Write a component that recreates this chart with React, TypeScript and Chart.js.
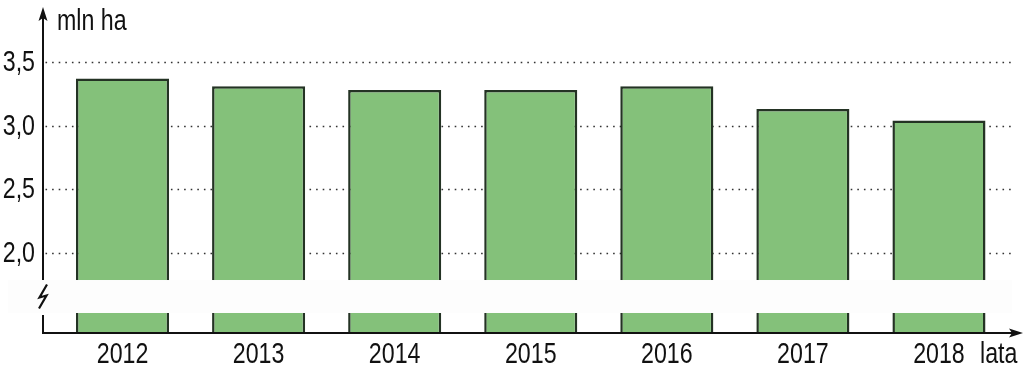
import React, { useEffect, useRef } from "react";
import { Chart, registerables } from "chart.js";

Chart.register(...registerables);

const years = ["2012", "2013", "2014", "2015", "2016", "2017", "2018"];
const areaMlnHa = [3.37, 3.31, 3.28, 3.28, 3.31, 3.13, 3.04];
const yTickValues = [2.0, 2.5, 3.0, 3.5];
const yUnitLabel = "mln ha";
const xUnitLabel = "lata";
const axisMin = 1.372;
const axisMax = 3.9;
const breakFrom = 1.529;
const breakTo = 1.788;

const FONT = "'Liberation Sans', Arial, sans-serif";
const FONT_SIZE = 29;
const NARROW = 0.8;
const INK = "#111";

function narrowText(ctx: any, text: string, x: number, y: number, align: "left" | "center" | "right", baseline: CanvasTextBaseline) {
  ctx.save();
  ctx.font = `${FONT_SIZE}px ${FONT}`;
  ctx.fillStyle = INK;
  ctx.textBaseline = baseline;
  ctx.textAlign = align;
  ctx.translate(x, y);
  ctx.scale(NARROW, 1);
  ctx.fillText(text, 0, 0);
  ctx.restore();
}

const decorPlugin = {
  id: "decor",
  beforeDatasetsDraw(chart: any) {
    const { ctx, chartArea, scales } = chart;
    const y = scales.y;
    ctx.save();
    ctx.strokeStyle = "#333";
    ctx.lineWidth = 1.6;
    ctx.setLineDash([1.6, 5]);
    yTickValues.forEach((v) => {
      const py = Math.round(y.getPixelForValue(v)) + 0.5;
      ctx.beginPath();
      ctx.moveTo(chartArea.left - 9, py);
      ctx.lineTo(chartArea.right + 5, py);
      ctx.stroke();
    });
    ctx.restore();
  },
  afterDatasetsDraw(chart: any) {
    const { ctx, chartArea, scales } = chart;
    const y = scales.y;
    const x = scales.x;
    const ax = chartArea.left - 11.5;
    const bottom = chartArea.bottom;
    const bTop = y.getPixelForValue(breakTo);
    const bBot = y.getPixelForValue(breakFrom);
    ctx.save();
    // break band
    ctx.fillStyle = "#fdfdfd";
    ctx.fillRect(8, bTop, chartArea.right + 5 - 8, bBot - bTop);
    ctx.strokeStyle = INK;
    ctx.fillStyle = INK;
    ctx.lineWidth = 2;
    ctx.setLineDash([]);
    // y axis (two parts)
    ctx.beginPath();
    ctx.moveTo(ax, bottom);
    ctx.lineTo(ax, bBot + 2);
    ctx.moveTo(ax, bTop);
    ctx.lineTo(ax, 18);
    ctx.stroke();
    ctx.beginPath();
    ctx.moveTo(ax, 7);
    ctx.lineTo(ax - 4.5, 21);
    ctx.lineTo(ax, 18);
    ctx.lineTo(ax + 4.5, 21);
    ctx.closePath();
    ctx.fill();
    // x axis
    ctx.beginPath();
    ctx.moveTo(ax - 1, bottom);
    ctx.lineTo(1016, bottom);
    ctx.stroke();
    ctx.beginPath();
    ctx.moveTo(1023, bottom);
    ctx.lineTo(1009, bottom - 4.5);
    ctx.lineTo(1012, bottom);
    ctx.lineTo(1009, bottom + 4.5);
    ctx.closePath();
    ctx.fill();
    // lightning break symbol
    const my = (bTop + bBot) / 2;
    ctx.lineWidth = 2.2;
    ctx.lineJoin = "miter";
    ctx.beginPath();
    ctx.moveTo(ax + 4, my - 12);
    ctx.lineTo(ax - 3.5, my + 1);
    ctx.lineTo(ax + 3.5, my - 1);
    ctx.lineTo(ax - 4, my + 12);
    ctx.stroke();
    ctx.restore();

    // y tick labels
    yTickValues.forEach((v) => {
      narrowText(ctx, v.toFixed(1).replace(".", ","), ax - 8, y.getPixelForValue(v) + 1, "right", "middle");
    });
    // x tick labels
    years.forEach((label, i) => {
      narrowText(ctx, label, x.getPixelForTick(i), bottom + 30, "center", "alphabetic");
    });
    // unit labels
    narrowText(ctx, yUnitLabel, ax + 14, 30, "left", "alphabetic");
    narrowText(ctx, xUnitLabel, 980, bottom + 30, "left", "alphabetic");
  },
};

export default function App() {
  const canvasRef = useRef<HTMLCanvasElement | null>(null);

  useEffect(() => {
    document.body.style.margin = "0";
    document.body.style.overflow = "hidden";
    const canvas = canvasRef.current;
    if (!canvas) return;
    const chart = new Chart(canvas, {
      type: "bar",
      data: {
        labels: years,
        datasets: [
          {
            data: areaMlnHa,
            backgroundColor: "#84c17a",
            borderColor: "#243324",
            borderWidth: 2.5,
            categoryPercentage: 1,
            barPercentage: 0.684,
          },
        ],
      },
      options: {
        animation: false,
        responsive: false,
        maintainAspectRatio: false,
        layout: { padding: { top: 11, right: 17, left: 0, bottom: 0 } },
        plugins: {
          legend: { display: false },
          tooltip: { enabled: false },
          title: { display: false },
        },
        scales: {
          x: {
            type: "category",
            grid: { display: false, drawTicks: false },
            border: { display: false },
            ticks: { display: false },
            afterFit(scale: any) {
              scale.height = 32;
            },
          },
          y: {
            type: "linear",
            min: axisMin,
            max: axisMax,
            grid: { display: false, drawTicks: false },
            border: { display: false },
            ticks: { display: false },
            afterFit(scale: any) {
              scale.width = 54.5;
            },
          },
        },
      },
      plugins: [decorPlugin],
    });
    return () => chart.destroy();
  }, []);

  return (
    <div style={{ width: 1024, height: 365 }}>
      <canvas ref={canvasRef} width={1024} height={365} style={{ display: "block" }} />
    </div>
  );
}
